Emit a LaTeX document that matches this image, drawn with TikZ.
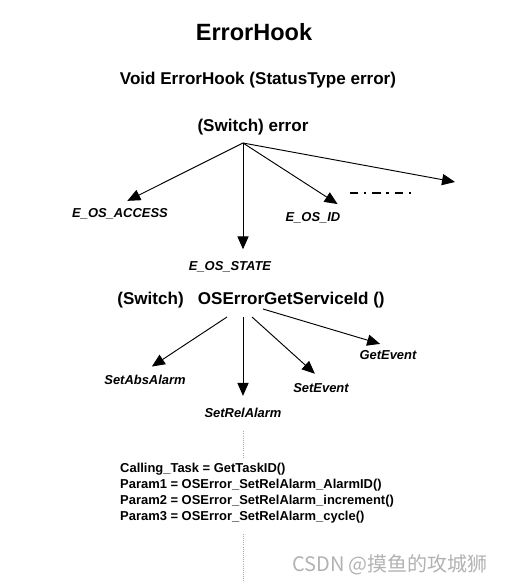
\documentclass[tikz,border=0pt]{standalone}
\usepackage{fontspec}
\setmainfont{Liberation Sans}
\newfontfamily\cjkfont{Noto Sans CJK SC}
\usetikzlibrary{arrows.meta}
\tikzset{
  head/.style={font=\fontsize{14.5}{17}\selectfont\bfseries},
  lab/.style={font=\fontsize{11}{13}\selectfont\bfseries\itshape},
  arr/.style={line width=0.8pt,-{Triangle[length=11pt,width=9.5pt]},shorten >=7pt},
  dots/.style={gray!70,densely dotted,line width=0.8pt},
}

\begin{document}
\begin{tikzpicture}[x=0.85pt,y=-0.85pt]
\useasboundingbox (0,0) rectangle (505,583);

\node[font=\fontsize{20}{24}\selectfont\bfseries] (title) at (254,32) {ErrorHook};
\node[head] (proto) at (258,80) {Void ErrorHook (StatusType error)};

\node[head] (sw1) at (253,127) {(Switch) error};
\coordinate (top1) at (243,143);
\node[lab] (acc) at (120,214) {E\_OS\_ACCESS};
\node[lab] (st) at (230,267) {E\_OS\_STATE};
\node[lab] (id) at (313,218) {E\_OS\_ID};
\coordinate (more) at (455,182);
\coordinate (dd1) at (350,193);
\coordinate (dd2) at (412,193);

\draw[arr] (top1) -- (acc.north);
\draw[arr] (top1) -- (top1 |- st.north);
\draw[arr] (top1) -- (id.north east);
\draw[arr,shorten >=0pt] (top1) -- (more);
\draw[line width=2.3pt,dash pattern=on 7pt off 5pt on 2pt off 5pt] (dd1) -- (dd2);

\node[head] (sw2) at (251,300) {(Switch)\hspace{8pt} OSErrorGetServiceId ()};
\coordinate (s1) at (227,317);
\coordinate (s2) at (243,317);
\coordinate (s3) at (252,317);
\coordinate (s4) at (263,309);
\node[lab] (sab) at (145,380) {SetAbsAlarm};
\node[lab] (srl) at (243,413) {SetRelAlarm};
\node[lab] (sev) at (321,388) {SetEvent};
\node[lab] (gev) at (388,355) {GetEvent};

\draw[arr] (s1) -- (sab.north);
\draw[arr] (s2) -- (s2 |- srl.north);
\draw[arr] (s3) -- (sev.north);
\draw[arr] (s4) -- (gev.north);

\node[font=\fontsize{11}{13.6}\selectfont\bfseries,align=left,anchor=west,inner sep=0pt] (code) at (120,493)
  {Calling\_Task = GetTaskID()\\
   Param1 = OSError\_SetRelAlarm\_AlarmID()\\
   Param2 = OSError\_SetRelAlarm\_increment()\\
   Param3 = OSError\_SetRelAlarm\_cycle()};
\coordinate (bot) at (243,583);

\draw[dots,shorten <=8pt,shorten >=4pt] (srl.south) -- (srl.south |- code.north);
\draw[dots,shorten <=9pt] (bot |- code.south) -- (bot);

\node[text=gray!60,font=\cjkfont\fontsize{17}{20}\selectfont,anchor=east] (wm) at (492,565) {CSDN @摸鱼的攻城狮};
\end{tikzpicture}
\end{document}
